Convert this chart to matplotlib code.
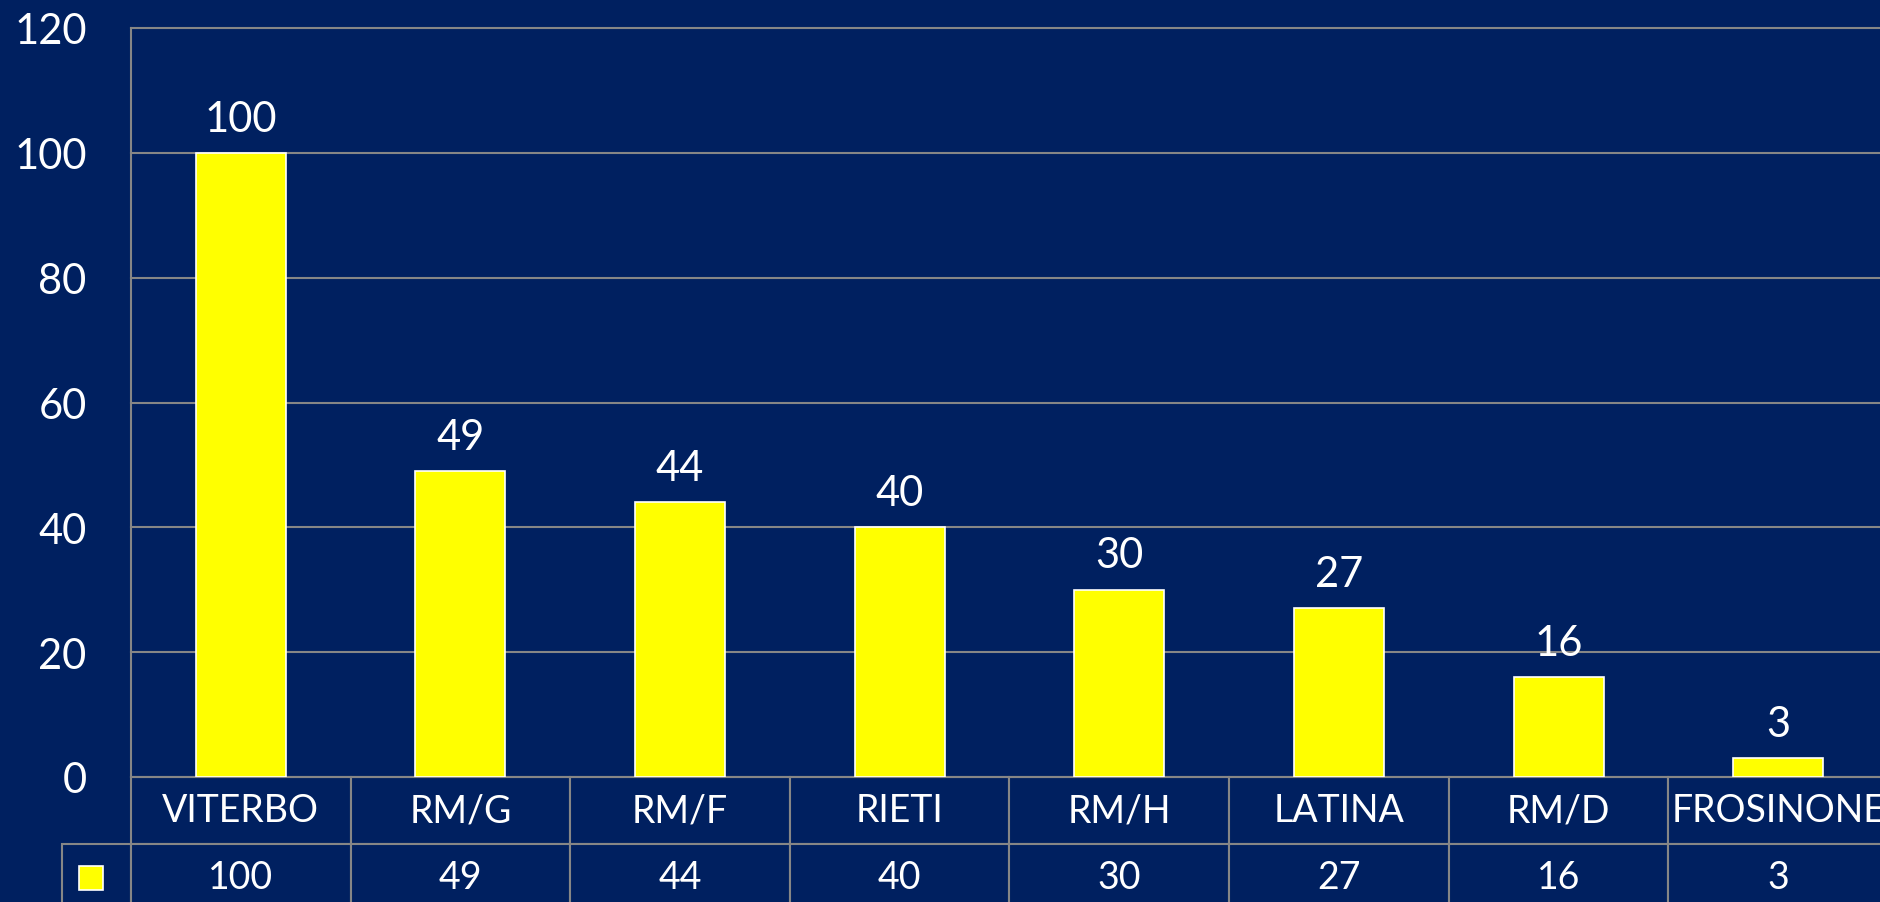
import matplotlib
matplotlib.use('Agg')
import matplotlib.pyplot as plt
from matplotlib.table import Table
from matplotlib.patches import Rectangle

# data
categories = ['VITERBO', 'RM/G', 'RM/F', 'RIETI', 'RM/H', 'LATINA', 'RM/D', 'FROSINONE']
values = [100, 49, 44, 40, 30, 27, 16, 3]
y_ticks = [0, 20, 40, 60, 80, 100, 120]

bg = '#002060'
grid_col = '#868686'
bar_col = '#ffff00'

plt.rcParams['font.family'] = ['Lato', 'DejaVu Sans']

fig = plt.figure(figsize=(18.8, 9.03), dpi=100, facecolor=bg)
ax = fig.add_axes([131 / 1880, 125 / 903, 1757 / 1880, 749 / 903])
ax.set_facecolor(bg)

x = list(range(len(categories)))
ax.bar(x, values, width=0.41, color=bar_col, edgecolor='white', linewidth=1.2, zorder=3)
for xi, v in zip(x, values):
    ax.annotate(str(v), (xi, v), xytext=(0, 11), textcoords='offset points',
                ha='center', va='bottom', color='white', fontsize=30)

ax.set_xlim(-0.5, len(categories) - 0.5)
ax.set_ylim(0, 120)
ax.set_yticks(y_ticks)
ax.set_xticks([])
ax.tick_params(axis='y', length=0, pad=32, labelsize=30, labelcolor='white')
ax.yaxis.grid(True, color=grid_col, linewidth=1.5)
ax.set_axisbelow(True)
for line in ax.get_ygridlines():
    line.set_clip_on(False)
for s in ['top', 'right', 'bottom']:
    ax.spines[s].set_visible(False)
ax.spines['left'].set_color(grid_col)
ax.spines['left'].set_linewidth(1.5)

# data table under the axis (bbox covers the grid, label column sticks out left)
row_h = 67 / 749
label_w = 69 / 1757
col_w = 1 / len(categories)
tbl = Table(ax, bbox=[0, -2 * row_h, 1, 2 * row_h])
for j, name in enumerate(categories):
    tbl.add_cell(0, j, width=col_w, height=row_h, text=name, loc='center',
                 facecolor=bg, edgecolor=grid_col)
    tbl.add_cell(1, j, width=col_w, height=row_h, text=str(values[j]), loc='center',
                 facecolor=bg, edgecolor=grid_col)
tbl.add_cell(1, -1, width=label_w, height=row_h, text='', facecolor=bg, edgecolor=grid_col)
tbl.auto_set_font_size(False)
tbl.set_fontsize(27)
for cell in tbl.get_celld().values():
    cell.set_linewidth(1.5)
    cell.get_text().set_color('white')
ax.add_table(tbl)

# legend key in the row label cell
key_w = 24 / 1757
key_h = 24 / 749
ax.add_patch(Rectangle((-label_w * 0.58 - key_w / 2, -1.5 * row_h - key_h / 2), key_w, key_h,
                       transform=ax.transAxes, facecolor=bar_col, edgecolor='white',
                       linewidth=1.2, clip_on=False, zorder=5))

fig.savefig('out.png', dpi=100, facecolor=bg)
